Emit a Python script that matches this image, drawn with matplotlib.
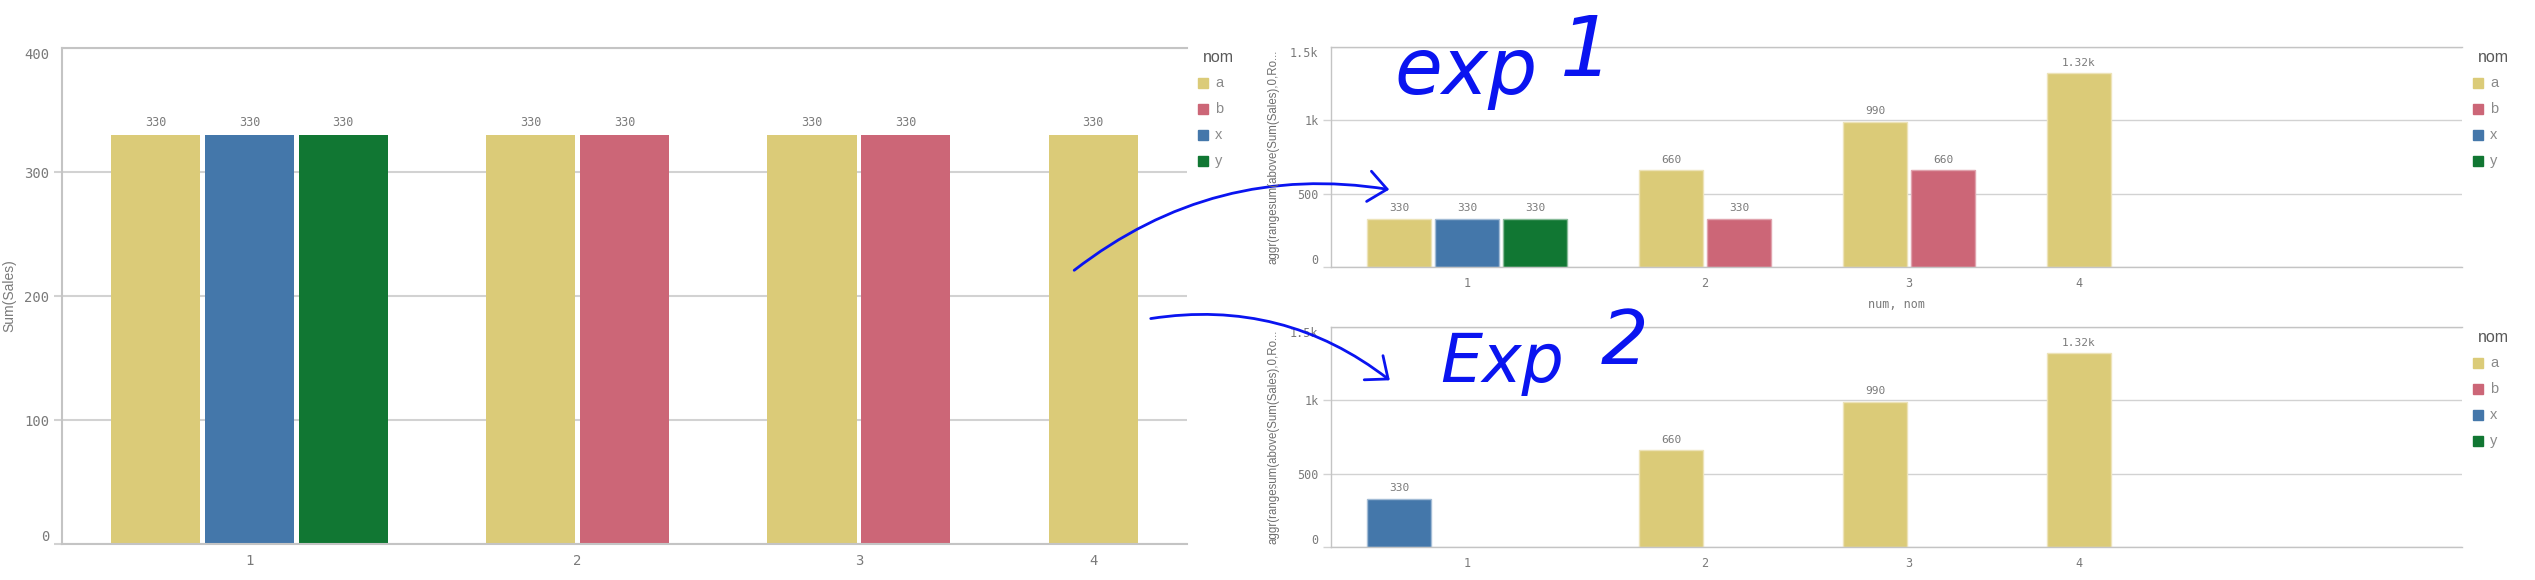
import matplotlib
matplotlib.use("Agg")
import matplotlib.pyplot as plt
from matplotlib.patches import Rectangle, FancyArrowPatch

# data
groups = ['1', '2', '3', '4']
slot_noms = [['a', 'x', 'y'], ['a', 'b'], ['a', 'b'], ['a']]
sales = [[330, 330, 330], [330, 330], [330, 330], [330]]
exp1_vals = [[330, 330, 330], [660, 330], [990, 660], [1320]]
exp2_noms = [['x', None, None], ['a', None], ['a', None], ['a']]
exp2_vals = [[330, None, None], [660, None], [990, None], [1320]]
legend_noms = ['a', 'b', 'x', 'y']
left_ticks = [0, 100, 200, 300, 400]
right_ticks = [0, 500, 1000, 1500]

colors = {'a': '#dbcb78', 'b': '#cc6677', 'x': '#4477aa', 'y': '#117733'}
edge_colors = {'a': '#ede3b8', 'b': '#e0a3ad', 'x': '#a2bbd5', 'y': '#88bb99'}
grey_txt = '#7a7a7a'
grid_col = '#d2d2d2'
mono = 'DejaVu Sans Mono'
sans = 'Liberation Sans'

W, H = 2535, 580
fig = plt.figure(figsize=(W / 100, H / 100), dpi=100)


def px_axes(x0, y0, x1, y1):
    return fig.add_axes([x0 / W, 1 - y1 / H, (x1 - x0) / W, (y1 - y0) / H])


def fmt(v):
    if v >= 1000:
        return f'{v / 1000:.3g}k'
    return str(v)


BW = 0.95   # bar width (pitch = 1)
GAP = 1.05  # gap between groups


def slot_positions(noms):
    pos, centers = [], []
    x = 0.0
    for g in noms:
        p = [x + i for i in range(len(g))]
        pos.append(p)
        centers.append(sum(p) / len(p))
        x = p[-1] + BW + GAP
    return pos, centers


def draw(ax, noms, vals, ticks, px_width, px_per_unit=None, outline=False,
         grid_lw=1.0, tick_fs=8.5, val_fs=8.5):
    pos, centers = slot_positions(slot_noms)
    for gp, gn, gv in zip(pos, noms, vals):
        for x, n, v in zip(gp, gn, gv):
            if v is None:
                continue
            ax.bar(x, v, width=BW, color=colors[n],
                   edgecolor=edge_colors[n] if outline else 'none',
                   linewidth=1.0 if outline else 0, zorder=2)
            ax.annotate(fmt(v), (x, v), xytext=(0, 4), textcoords='offset points',
                        ha='center', va='bottom', fontsize=val_fs,
                        color=grey_txt, family=mono)
    left = -BW / 2 - GAP / 2
    if px_per_unit is None:
        right = pos[-1][-1] + BW / 2 + GAP / 2
    else:
        right = left + px_width / px_per_unit
    ax.set_xlim(left, right)
    ax.set_ylim(ticks[0], ticks[-1])
    ax.set_xticks(centers)
    ax.set_xticklabels(groups, fontsize=tick_fs, color=grey_txt, family=mono)
    ax.tick_params(axis='x', length=0, pad=7)
    ax.set_yticks(ticks)
    ax.set_yticklabels([fmt(t) for t in ticks], fontsize=tick_fs,
                       color=grey_txt, family=mono)
    ax.tick_params(axis='y', length=6, width=grid_lw, color=grid_col, pad=3)
    ylabels = ax.get_yticklabels()
    ylabels[0].set_va('bottom')
    ylabels[-1].set_va('top')
    ax.yaxis.get_major_ticks()[-1].tick1line.set_visible(False)
    ax.yaxis.grid(True, color=grid_col, linewidth=grid_lw, zorder=0)
    ax.set_axisbelow(True)
    for s in ['left', 'bottom', 'top']:
        ax.spines[s].set_color('#c4c4c4')
        ax.spines[s].set_linewidth(grid_lw)
    ax.spines['right'].set_visible(False)


def draw_legend(x_sq, y_nom, y_first, step=26):
    fig.text((x_sq + 5) / W, 1 - y_nom / H, 'nom', fontsize=11.5, color='#595959',
             family=sans, ha='left', va='center')
    for i, n in enumerate(legend_noms):
        yc = y_first + i * step
        fig.add_artist(Rectangle(((x_sq) / W, 1 - (yc + 5) / H), 10 / W, 10 / H,
                                 transform=fig.transFigure, color=colors[n]))
        fig.text((x_sq + 17) / W, 1 - yc / H, n, fontsize=10.5, color='#8a8a8a',
                 family=sans, ha='left', va='center')


# left chart: Sum(Sales)
ax0 = px_axes(62, 48, 1187, 544)
draw(ax0, slot_noms, sales, left_ticks, 1125, grid_lw=1.5, tick_fs=10, val_fs=8.5)
fig.text(9 / W, 1 - 296 / H, 'Sum(Sales)', rotation=90, fontsize=10,
         color=grey_txt, family=sans, ha='center', va='center')
draw_legend(1198, 57, 83)

# right top chart: exp 1
ylab = 'aggr(rangesum(above(Sum(Sales),0,Ro...'
ax1 = px_axes(1331, 47, 2462, 267)
draw(ax1, slot_noms, exp1_vals, right_ticks, 1131, px_per_unit=68, outline=True,
     grid_lw=1.0, tick_fs=8.5, val_fs=8)
fig.text(1274 / W, 1 - 157 / H, ylab, rotation=90, fontsize=8.3, color='#6e6e6e',
         family=sans, ha='center', va='center')
fig.text(1896 / W, 1 - 305 / H, 'num, nom', fontsize=8.5, color=grey_txt,
         family=mono, ha='center', va='center')
draw_legend(2473, 57, 83)

# right bottom chart: exp 2
ax2 = px_axes(1331, 327, 2462, 547)
draw(ax2, exp2_noms, exp2_vals, right_ticks, 1131, px_per_unit=68, outline=True,
     grid_lw=1.0, tick_fs=8.5, val_fs=8)
fig.text(1274 / W, 1 - 437 / H, ylab, rotation=90, fontsize=8.3, color='#6e6e6e',
         family=sans, ha='center', va='center')
draw_legend(2473, 338, 363)

# hand-written annotations
ink = '#0a14f0'
hand = dict(color=ink, family='DejaVu Sans', style='oblique', ha='left',
            va='baseline')
fig.text(1394 / W, 1 - 94 / H, 'exp', fontsize=56, **hand)
fig.text(1560 / W, 1 - 76 / H, '1', fontsize=60, **hand)
fig.text(1440 / W, 1 - 382 / H, 'Exp', fontsize=48, **hand)
fig.text(1601 / W, 1 - 364 / H, '2', fontsize=54, **hand)
for (x0, y0), (x1, y1) in [((1072, 272), (1392, 190)), ((1148, 319), (1392, 382))]:
    fig.add_artist(FancyArrowPatch((x0 / W, 1 - y0 / H), (x1 / W, 1 - y1 / H),
                                   transform=fig.transFigure,
                                   connectionstyle='arc3,rad=-0.22',
                                   arrowstyle='->,head_length=0.6,head_width=0.5',
                                   mutation_scale=22, color=ink, linewidth=2))

fig.savefig('out.png', dpi=100)
